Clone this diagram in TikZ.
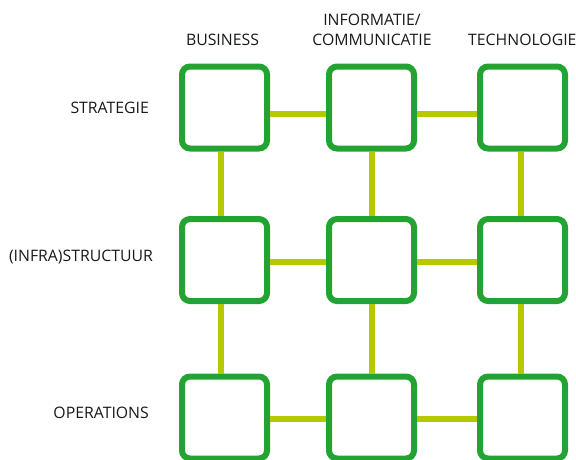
\documentclass[tikz,border=0pt]{standalone}
\usepackage{fontspec}
\setmainfont{Open Sans}
\definecolor{boxgreen}{RGB}{34,163,50}
\definecolor{linkgreen}{RGB}{181,200,0}
\begin{document}
\begin{tikzpicture}[x=1pt,y=-1pt,
  cell/.style={draw=boxgreen,fill=white,line width=6pt,rounded corners=8pt,
    minimum width=85pt,minimum height=82pt,inner sep=0pt},
  conn/.style={draw=linkgreen,line width=6pt},
  lbl/.style={font=\fontsize{15.8}{20}\selectfont,text=black!90,inner sep=0pt}]
\useasboundingbox (0,0) rectangle (576,459);
% boxes
\foreach \c/\x in {1/224.5,2/371.5,3/522.5}{
  \foreach \r/\y in {1/107.5,2/260,3/417.5}{
    \node[cell] (b\r\c) at (\x,\y) {};
  }
}
% horizontal connectors
\draw[conn] ([yshift=-6.5pt]b11.east) -- ([yshift=-6.5pt]b12.west);
\draw[conn] ([yshift=-6.5pt]b12.east) -- ([yshift=-6.5pt]b13.west);
\draw[conn] ([yshift=-2pt]b21.east) -- ([yshift=-2pt]b22.west);
\draw[conn] ([yshift=-2pt]b22.east) -- ([yshift=-2pt]b23.west);
\draw[conn] ([yshift=-1.5pt]b31.east) -- ([yshift=-1.5pt]b32.west);
\draw[conn] ([yshift=-1.5pt]b32.east) -- ([yshift=-1.5pt]b33.west);
% vertical connectors
\draw[conn] ([xshift=-3.5pt]b11.south) -- ([xshift=-3.5pt]b21.north);
\draw[conn] ([xshift=-3.5pt]b21.south) -- ([xshift=-3.5pt]b31.north);
\draw[conn] ([xshift=0.5pt]b12.south) -- ([xshift=0.5pt]b22.north);
\draw[conn] ([xshift=0.5pt]b22.south) -- ([xshift=0.5pt]b32.north);
\draw[conn] ([xshift=-1.5pt]b13.south) -- ([xshift=-1.5pt]b23.north);
\draw[conn] ([xshift=-1.5pt]b23.south) -- ([xshift=-1.5pt]b33.north);
% column headers
\node[lbl] (hbus) at (222.5,40) {BUSINESS};
\node[lbl,align=center] (hinf) at (372,30) {INFORMATIE/\\COMMUNICATIE};
\node[lbl,anchor=west] (htech) at (468,40) {TECHNOLOGIE};
% row labels
\node[lbl,anchor=east] (rstrat) at (149,108) {STRATEGIE};
\node[lbl,anchor=east] (rinfra) at (153,257) {(INFRA)STRUCTUUR};
\node[lbl,anchor=east] (rops) at (149,413) {OPERATIONS};
\end{tikzpicture}
\end{document}
